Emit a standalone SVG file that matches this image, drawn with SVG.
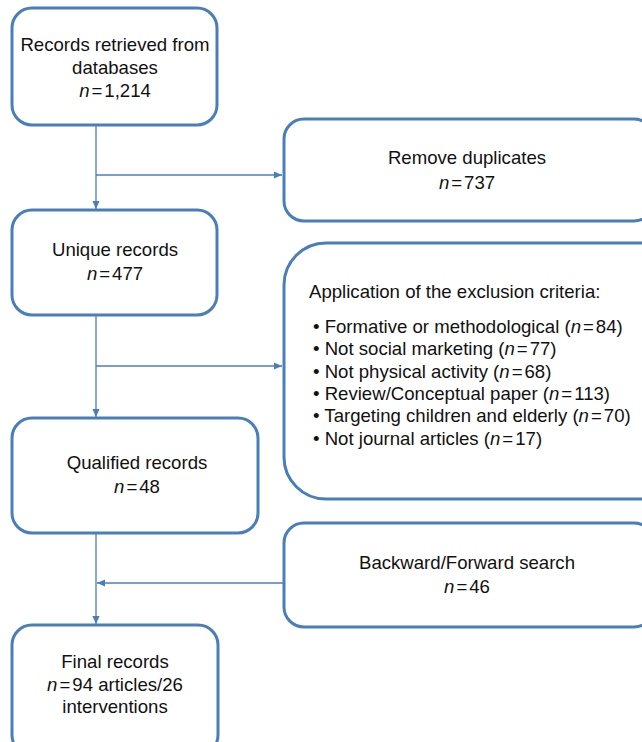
<svg xmlns="http://www.w3.org/2000/svg" width="642" height="742" viewBox="0 0 642 742">
<defs>
<marker id="ah" viewBox="0 0 10 10" refX="10" refY="5" markerWidth="8" markerHeight="8" markerUnits="userSpaceOnUse" orient="auto">
<path d="M0,0.5 L10,5 L0,9.5 z" fill="#4a7ebb"/>
</marker>
<style>
.box{fill:#fff;stroke:#4a7ebb;stroke-width:3}
.ln{fill:none;stroke:#4a7ebb;stroke-width:1.3}
text{font-family:"Liberation Sans",Arial,sans-serif;font-size:18.6px;fill:#111}
.c{text-anchor:middle}
.i{font-style:italic}
</style>
</defs>
<g id="connectors">
<line class="ln" x1="96" y1="125" x2="96" y2="209" marker-end="url(#ah)"/>
<line class="ln" x1="96" y1="175" x2="282" y2="175" marker-end="url(#ah)"/>
<line class="ln" x1="96" y1="315" x2="96" y2="417" marker-end="url(#ah)"/>
<line class="ln" x1="96" y1="366" x2="282" y2="366" marker-end="url(#ah)"/>
<line class="ln" x1="96" y1="533" x2="96" y2="624" marker-end="url(#ah)"/>
<line class="ln" x1="283" y1="583" x2="97" y2="583" marker-end="url(#ah)"/>
</g>
<g id="n1">
<rect class="box" x="12" y="8" width="205" height="117" rx="20"/>
<text class="c" x="115" y="51">Records retrieved from</text>
<text class="c" x="115" y="74">databases</text>
<text class="c" x="115" y="97"><tspan class="i">n</tspan><tspan dx="2">=</tspan><tspan dx="2">1,214</tspan></text>
</g>
<g id="n2">
<rect class="box" x="284" y="119" width="370" height="102" rx="20"/>
<text class="c" x="467" y="164">Remove duplicates</text>
<text class="c" x="467" y="189"><tspan class="i">n</tspan><tspan dx="2">=</tspan><tspan dx="2">737</tspan></text>
</g>
<g id="n3">
<rect class="box" x="12" y="210" width="205" height="105" rx="20"/>
<text class="c" x="115" y="256">Unique records</text>
<text class="c" x="115" y="280"><tspan class="i">n</tspan><tspan dx="2">=</tspan><tspan dx="2">477</tspan></text>
</g>
<g id="n4">
<rect class="box" x="284" y="243" width="400" height="256" rx="42"/>
<text x="309" y="298">Application of the exclusion criteria:</text>
<text x="313" y="333">• Formative or methodological (<tspan class="i">n</tspan><tspan dx="2">=</tspan><tspan dx="2">84)</tspan></text>
<text x="313" y="355">• Not social marketing (<tspan class="i">n</tspan><tspan dx="2">=</tspan><tspan dx="2">77)</tspan></text>
<text x="313" y="378">• Not physical activity (<tspan class="i">n</tspan><tspan dx="2">=</tspan><tspan dx="2">68)</tspan></text>
<text x="313" y="400">• Review/Conceptual paper (<tspan class="i">n</tspan><tspan dx="2">=</tspan><tspan dx="2">113)</tspan></text>
<text x="313" y="422">• Targeting children and elderly (<tspan class="i">n</tspan><tspan dx="2">=</tspan><tspan dx="2">70)</tspan></text>
<text x="313" y="445">• Not journal articles (<tspan class="i">n</tspan><tspan dx="2">=</tspan><tspan dx="2">17)</tspan></text>
</g>
<g id="n5">
<rect class="box" x="12" y="418" width="246" height="115" rx="20"/>
<text class="c" x="137" y="469">Qualified records</text>
<text class="c" x="137" y="493"><tspan class="i">n</tspan><tspan dx="2">=</tspan><tspan dx="2">48</tspan></text>
</g>
<g id="n6">
<rect class="box" x="284" y="523" width="370" height="104" rx="20"/>
<text class="c" x="467" y="569">Backward/Forward search</text>
<text class="c" x="467" y="593"><tspan class="i">n</tspan><tspan dx="2">=</tspan><tspan dx="2">46</tspan></text>
</g>
<g id="n7">
<rect class="box" x="12" y="625" width="206" height="130" rx="20"/>
<text class="c" x="115" y="668">Final records</text>
<text class="c" x="115" y="691"><tspan class="i">n</tspan><tspan dx="2">=</tspan><tspan dx="2">94 articles/26</tspan></text>
<text class="c" x="115" y="713">interventions</text>
</g>
</svg>
